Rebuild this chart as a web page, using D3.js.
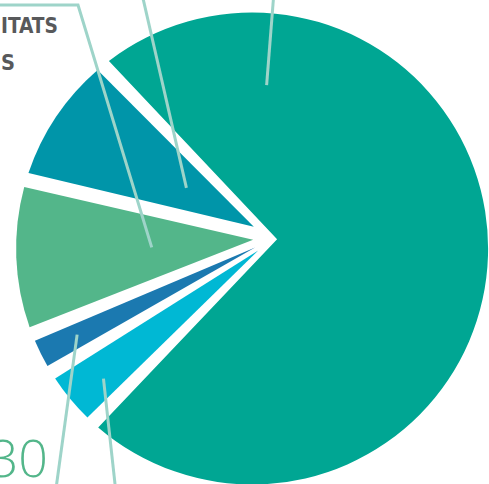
<!DOCTYPE html>
<html>
<head>
<meta charset="utf-8">
<script src="https://cdn.jsdelivr.net/npm/d3@7"></script>
<style>
  html, body { margin: 0; padding: 0; background: #fff; }
  svg { display: block; }
</style>
</head>
<body>
<svg id="chart" width="489" height="484"></svg>
<script>
// ---- data ----
const categories = ["A", "B", "C", "D", "E"];
const values = [75.4, 3.6, 2.0, 10.1, 8.9];
const colors = ["#00a693", "#00b8d4", "#1b79b0", "#53b68a", "#0095a9"];
const labelLines = ["ITATS", "S"];
const numberLabel = "30";

// ---- layout ----
const W = 489, H = 484;
const cx = 252.1, cy = 248.5, R = 236;
const startDeg = -39.125, padDeg = 3.55;
const hub = [cx + 20, cy - 9.5];
const explode = [5, 18, 19, 19, 22];

const svg = d3.select("#chart");
const rad = d => d * Math.PI / 180;

const pie = d3.pie().sort(null).value(d => d)
  .startAngle(rad(startDeg)).endAngle(rad(startDeg) + 2 * Math.PI)
  .padAngle(rad(padDeg));
const arcs = pie(values);

const polar = (a, r, o = [cx, cy]) => [o[0] + r * Math.sin(a), o[1] - r * Math.cos(a)];

arcs.forEach((a, i) => {
  const v0 = a.startAngle + a.padAngle / 2;
  const v1 = a.endAngle - a.padAngle / 2;
  const mid = (v0 + v1) / 2;
  const apex = polar(mid, explode[i], hub);
  const p = d3.path();
  const c0 = polar(v0, R);
  p.moveTo(apex[0], apex[1]);
  p.lineTo(c0[0], c0[1]);
  p.arc(cx, cy, R, v0 - Math.PI / 2, v1 - Math.PI / 2, false);
  p.closePath();
  svg.append("path").attr("d", p.toString()).attr("fill", colors[i]);
});

// ---- leader lines ----
const midOf = i => (arcs[i].startAngle + arcs[i].endAngle) / 2;
const leaders = [
  { slice: 3, dAng: 2.8, r: 100.4, out: [[78, 5], [-20, 5]] },
  { slice: 4, dAng: 8.85, r: 89.4, out: [[138.8, -20]] },
  { slice: 0, dAng: -86.6, r: 164.1, out: [[274.9, -20]] },
  { slice: 2, dAng: 0.25, r: 195, out: [[53.9, 504]] },
  { slice: 1, dAng: -1.6, r: 197.5, out: [[117.2, 504]] }
];
const line = d3.line();
leaders.forEach(l => {
  const start = polar(midOf(l.slice) + rad(l.dAng), l.r);
  svg.append("path")
    .attr("d", line([start, ...l.out]))
    .attr("fill", "none")
    .attr("stroke", "#9ed4c9")
    .attr("stroke-width", 3);
});

// ---- texts ----
const labelFont = "'DejaVu Sans Condensed', 'DejaVu Sans', sans-serif";
svg.append("text")
  .attr("x", 1).attr("y", 32.5)
  .attr("font-family", labelFont)
  .attr("font-weight", "bold")
  .attr("font-size", 22)
  .attr("textLength", 57)
  .attr("lengthAdjust", "spacingAndGlyphs")
  .attr("fill", "#58595b")
  .text(labelLines[0]);
svg.append("text")
  .attr("x", 1).attr("y", 70)
  .attr("font-family", labelFont)
  .attr("font-weight", "bold")
  .attr("font-size", 22)
  .attr("textLength", 14)
  .attr("lengthAdjust", "spacingAndGlyphs")
  .attr("fill", "#58595b")
  .text(labelLines[1]);
svg.append("text")
  .attr("x", 48).attr("y", 476.7)
  .attr("text-anchor", "end")
  .attr("font-family", "'Open Sans', Lato, sans-serif")
  .attr("font-weight", 300)
  .attr("font-size", 52)
  .attr("fill", "#53b68a")
  .text(numberLabel);
</script>
</body>
</html>
